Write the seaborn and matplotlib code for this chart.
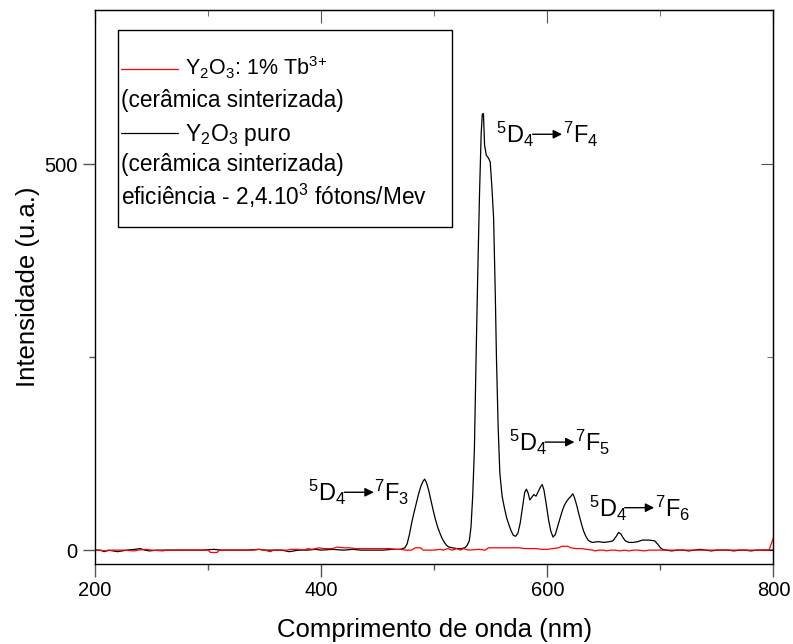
import numpy as np
import pandas as pd
import matplotlib
matplotlib.use('Agg')
import matplotlib.pyplot as plt
import seaborn as sns
from matplotlib.patches import Rectangle
from matplotlib.lines import Line2D
from matplotlib.ticker import MultipleLocator

# Espectro Y2O3 puro (comprimento de onda em nm, intensidade u.a.)
puro_nm = [200, 205, 208, 212, 216, 220, 224, 228, 235, 240, 244, 248, 255, 265, 275,
           285, 295, 305, 312, 320, 335, 345, 350, 358, 365, 372, 376, 380, 388, 395,
           400, 410, 420, 428, 435, 445, 455, 462, 466, 470,
           474, 476, 478, 480, 482, 484, 486, 488, 490, 491.5, 493, 495, 497, 499, 501,
           503, 505, 507, 509, 511, 513, 516, 520, 524, 527, 529, 531, 532.5, 534, 535.5,
           537, 538.5, 540, 541.5, 542.5, 543.5, 544.5, 546, 548, 549.5, 551, 552.5, 554,
           555, 556.5, 558, 560, 562, 564, 566, 568, 570, 572, 574, 576, 578, 580, 581.5,
           583, 584.5, 586, 588, 590, 592, 594, 595.5, 597, 599, 601, 603, 605, 607, 609,
           611, 613, 615, 617, 619, 621, 622.5, 624, 626, 628, 630, 632, 634, 636, 638,
           640, 645, 650, 655, 658, 661, 663, 665, 667, 669, 672, 676, 680, 684, 690,
           695, 698, 700, 702, 705, 710, 715, 720, 725, 730, 735, 740, 745, 750, 755,
           760, 765, 770, 775, 780, 785, 790, 795, 800]
puro_int = [0, 0, -2, 0, -1, -2, -1, 0, 1, 2, 0, -1, 0, 0, 0,
            0, 0, 1, 0, 0, 0, 1, 0, 0, 0, -2, -1, 0, 0, 1,
            0, 1, 0, 1, 0, 0, 0, 1, 1, 1,
            3, 8, 20, 35, 48, 60, 72, 82, 89, 92, 88, 78, 65, 52, 40,
            30, 22, 15, 10, 6, 4, 3, 2, 2, 3, 6, 12, 30, 70, 130,
            250, 360, 460, 540, 565, 566, 525, 512, 508, 503, 470, 430, 330,
            250, 160, 100, 70, 55, 42, 33, 25, 19, 18, 22, 35, 55, 75, 79,
            74, 65, 68, 72, 70, 76, 82, 85, 78, 60, 40, 25, 17, 20, 30,
            40, 50, 58, 63, 67, 70, 73, 68, 58, 46, 35, 25, 18, 13, 11,
            10, 11, 10, 11, 12, 18, 23, 21, 16, 12, 10, 10, 11, 13, 13,
            12, 7, 3, 1, 0, -1, 0, 0, -1, 0, 1, 0, -1, 0, 0,
            0, -1, 0, 0, -1, 0, 0, 0, 0]

# Espectro Y2O3: 1% Tb3+
tb_nm = [200, 210, 215, 225, 235, 238, 245, 250, 260, 263, 300, 302, 308, 310, 340,
         345, 350, 355, 358, 370, 373, 380, 385, 388, 392, 398, 402, 410, 414, 420,
         425, 430, 440, 448, 455, 460, 466, 470, 475, 480, 483, 488, 490, 500, 505,
         508, 512, 516, 520, 523, 526, 530, 540, 545, 548, 555, 560, 565, 570, 575,
         580, 590, 595, 600, 605, 610, 613, 618, 621, 625, 630, 635, 640, 642, 646,
         650, 652, 656, 660, 664, 668, 672, 676, 680, 686, 690, 695, 700, 720, 740,
         760, 780, 790, 796, 800]
tb_int = [0, -1, 0, 0, -1, 0, 1, 0, -1, 0, 0, -3, -3, 0, 0,
          1, 0, -2, 0, 0, 1, 1, 0, 2, 1, 3, 2, 2, 4, 3,
          3, 2, 2, 2, 2, 2, 1, 1, 0, 0, 3, 3, 0, 0, 1,
          0, 2, 0, 2, 0, 2, 0, 1, 0, 3, 3, 3, 3, 3, 3,
          2, 2, 1, 1, 2, 3, 5, 5, 3, 2, 2, 1, 0, -1, 0,
          0, -1, 0, 0, -1, 0, -1, 0, 0, -1, 0, 0, 0, 0, 0,
          0, 0, 0, 0, 16]

# Transições: (n do 7F, x inicial, y da seta)
trans_n = ['3', '4', '5', '6']
trans_x = [388.5, 555.0, 566.0, 636.5]
trans_y = [75, 539, 140, 55]

df = pd.concat([
    pd.DataFrame({'nm': puro_nm, 'int': puro_int, 'amostra': 'puro'}),
    pd.DataFrame({'nm': tb_nm, 'int': tb_int, 'amostra': 'tb'}),
])

sns.set_style('ticks')
plt.rcParams['font.family'] = ['Liberation Sans', 'DejaVu Sans']
plt.rcParams['mathtext.default'] = 'regular'
plt.rcParams['text.color'] = 'black'
plt.rcParams['axes.labelcolor'] = 'black'
plt.rcParams['xtick.labelcolor'] = 'black'
plt.rcParams['ytick.labelcolor'] = 'black'

fig = plt.figure(figsize=(7.93, 6.44), dpi=100)
ax = fig.add_axes([0.1198, 0.1242, 0.8556, 0.8602])

sns.lineplot(data=df, x='nm', y='int', hue='amostra', palette={'puro': 'black', 'tb': 'red'},
             hue_order=['puro', 'tb'], estimator=None, sort=False, lw=0.9, legend=False, ax=ax)

ax.set_xlim(200, 800)
ax.set_ylim(-18, 700)
ax.set_xticks([200, 400, 600, 800])
ax.set_yticks([0, 500])
ax.xaxis.set_minor_locator(MultipleLocator(100))
ax.yaxis.set_minor_locator(MultipleLocator(250))
ax.tick_params(which='major', direction='out', length=9, width=1, labelsize=14.5, color='#555555')
ax.tick_params(which='minor', direction='out', length=4, width=1, color='#555555')
for s in ax.spines.values():
    s.set_linewidth(1)
    s.set_color('black')

# ticks internos em cima e à direita
top = ax.secondary_xaxis('top')
top.set_xticks([200, 400, 600, 800])
top.xaxis.set_minor_locator(MultipleLocator(100))
top.tick_params(which='major', direction='in', length=9, labeltop=False, color='#555555')
top.tick_params(which='minor', direction='in', length=4, color='#555555')
right = ax.secondary_yaxis('right')
right.set_yticks([0, 500])
right.yaxis.set_minor_locator(MultipleLocator(250))
right.tick_params(which='major', direction='in', length=9, labelright=False, color='#555555')
right.tick_params(which='minor', direction='in', length=4, color='#555555')

ax.set_xlabel('Comprimento de onda (nm)', fontsize=18.5, labelpad=13)
ax.set_ylabel('Intensidade (u.a.)', fontsize=18.5, labelpad=3)

# rótulos das transições
for n, x0, ya in zip(trans_n, trans_x, trans_y):
    ax.text(x0, ya - 11.5, '$^5$D$_4$', fontsize=17, ha='left', va='baseline')
    ax.annotate('', xy=(x0 + 58, ya), xytext=(x0 + 32, ya),
                arrowprops=dict(arrowstyle='-|>', color='black', lw=1,
                                mutation_scale=13, shrinkA=0, shrinkB=0))
    ax.text(x0 + 58.5, ya - 11.5, '$^7$F$_{%s}$' % n, fontsize=17, ha='left', va='baseline')

# caixa de legenda
ax.add_patch(Rectangle((0.0339, 0.6083), 0.4923, 0.3556, transform=ax.transAxes,
                       fill=False, edgecolor='black', lw=1))
ax.add_line(Line2D([0.0383, 0.1223], [0.8935, 0.8935], transform=ax.transAxes, color='red', lw=0.9))
ax.add_line(Line2D([0.0383, 0.1223], [0.778, 0.778], transform=ax.transAxes, color='black', lw=0.9))
leg_fs = 16.3
ax.text(0.1326, 0.8827, 'Y$_2$O$_3$: 1% Tb$^{3{+}}$', transform=ax.transAxes, fontsize=15.5, va='baseline')
ax.text(0.0383, 0.8249, '(cerâmica sinterizada)', transform=ax.transAxes, fontsize=leg_fs, va='baseline')
ax.text(0.1326, 0.7641, 'Y$_2$O$_3$ puro', transform=ax.transAxes, fontsize=16.5, va='baseline')
ax.text(0.0383, 0.7099, '(cerâmica sinterizada)', transform=ax.transAxes, fontsize=leg_fs, va='baseline')
ax.text(0.0383, 0.648, 'eficiência - 2,4.10$^3$ fótons/Mev', transform=ax.transAxes, fontsize=leg_fs, va='baseline')

fig.savefig('out.png', dpi=100)
